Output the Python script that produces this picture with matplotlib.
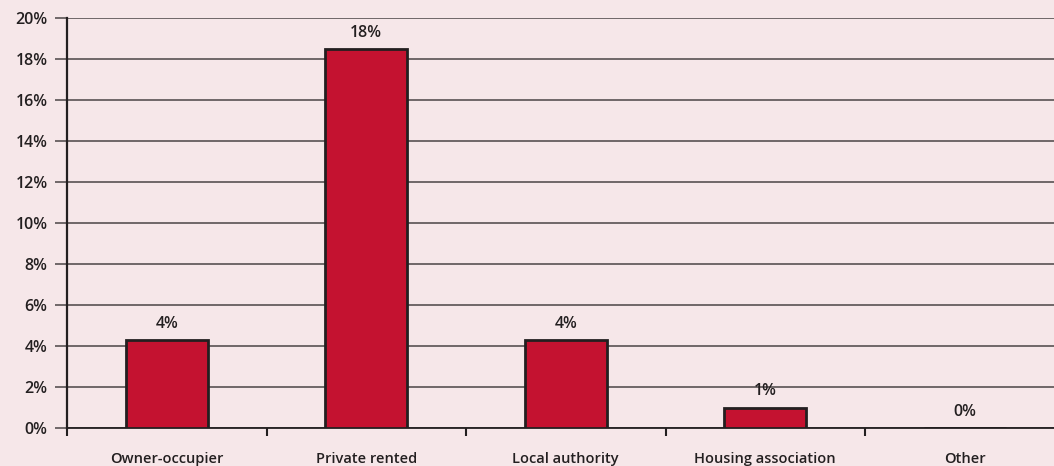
import matplotlib.pyplot as plt
import numpy as np

categories = ['Owner-occupier', 'Private rented', 'Local authority',
              'Housing association', 'Other']
values = [4.3, 18.5, 4.3, 1.0, 0.0]
labels = ['4%', '18%', '4%', '1%', '0%']
yticks = [0, 2, 4, 6, 8, 10, 12, 14, 16, 18, 20]

bg = '#f6e7e9'
bar_color = '#c41230'
dark = '#231f20'

plt.rcParams['font.family'] = ['Open Sans', 'DejaVu Sans']
plt.rcParams['font.weight'] = 'semibold'

fig = plt.figure(figsize=(10.54, 4.66), dpi=100, facecolor=bg)
ax = fig.add_axes([67 / 1054, 38 / 466, 997.5 / 1054, 410 / 466])
ax.set_facecolor(bg)

x = np.arange(len(categories))
ax.bar(x, values, width=0.41, color=bar_color, edgecolor=dark,
       linewidth=2, zorder=3)

for xi, v, lab in zip(x, values, labels):
    ax.text(xi, v + 0.4, lab, ha='center', va='bottom',
            fontsize=11.5, color=dark)

ax.set_ylim(0, 20)
ax.set_xlim(-0.5, 4.5)
ax.set_yticks(yticks)
ax.set_yticklabels([f'{t}%' for t in yticks], fontsize=11.5, color=dark)
ax.yaxis.grid(True, color='#4a4445', linewidth=1.1, zorder=0)
ax.tick_params(axis='y', length=9, width=1.1, color='#4a4445', pad=5)

# category ticks sit between the bars
ax.set_xticks(np.arange(len(categories) + 1) - 0.5)
ax.set_xticklabels([])
ax.set_xticks(x, minor=True)
ax.set_xticklabels(categories, minor=True, fontsize=10.5, color=dark)
ax.tick_params(axis='x', which='minor', length=0, pad=17)
ax.tick_params(axis='x', which='major', length=6, width=1.5, color=dark,
               direction='out')

for s in ['top', 'right']:
    ax.spines[s].set_visible(False)
ax.spines['left'].set_color(dark)
ax.spines['left'].set_linewidth(1.6)
ax.spines['bottom'].set_color(dark)
ax.spines['bottom'].set_linewidth(1.3)

fig.savefig('out.png', dpi=100, facecolor=bg)
